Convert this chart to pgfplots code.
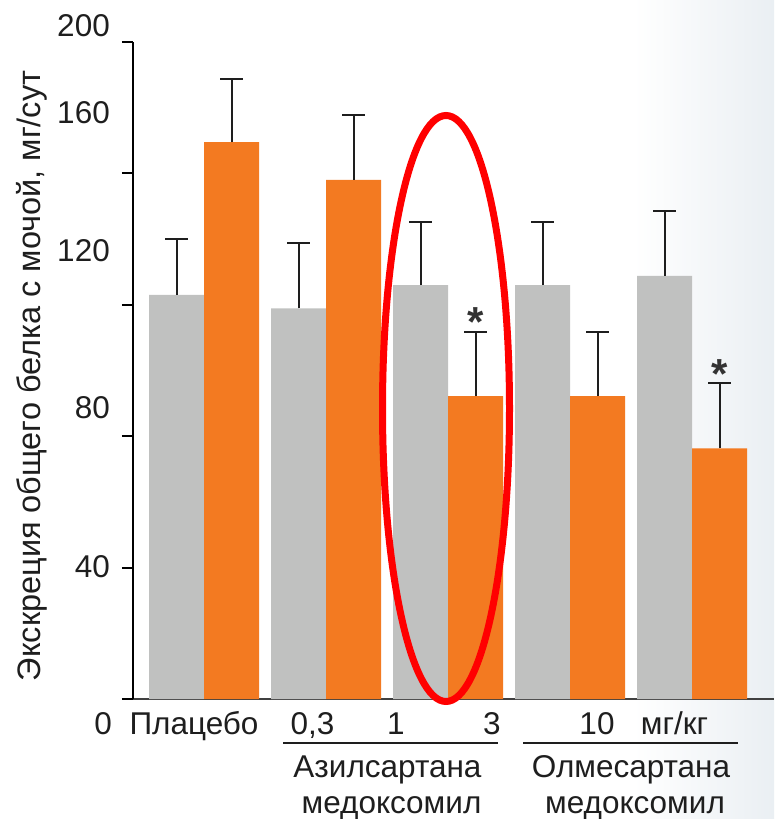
\documentclass[border=0pt]{standalone}
\usepackage{pgfplots}
\pgfplotsset{compat=1.18}
\usepackage{pgfplotstable}
\usepackage{fontspec}
\setmainfont{Liberation Sans}

\definecolor{barGray}{HTML}{C0C1C0}
\definecolor{barOrange}{HTML}{F37A21}
\definecolor{txt}{HTML}{1E1E1E}
\definecolor{bgEdge}{HTML}{EAEFF3}

% group index, mean, upper SD
\pgfplotstableread{
x  y      e
0  123.0  16.9
1  118.9  20.0
2  126.0  19.3
3  126.0  19.3
4  128.8  19.8
}\grayData
\pgfplotstableread{
x  y      e
0  169.5  19.3
1  158.0  19.8
2  92.2   19.4
3  92.2   19.6
4  76.3   20.0
}\orangeData

\begin{document}
\begin{tikzpicture}[x=1pt, y=1pt, font=\fontsize{31.5}{36}\selectfont, text=txt]
\useasboundingbox (-133,-120) rectangle (641,699);
\shade[left color=white, right color=bgEdge] (500,-120) rectangle (641,699);

\begin{axis}[
  at={(0pt,0pt)}, anchor=south west,
  scale only axis, width=641pt, height=657pt,
  xmin=-0.582, xmax=4.672, ymin=0, ymax=200,
  axis lines*=left,
  x axis line style={draw=black!75, line width=2pt},
  y axis line style={draw=black, line width=2.5pt},
  xtick=\empty,
  ytick={0,40,...,200}, yticklabels={},
  tick align=outside, major tick length=11pt,
  tick style={line width=2pt, black},
  ybar=0pt, bar width=55pt,
  clip=false,
  error bars/error bar style={draw=txt, line width=2pt},
  error bars/error mark options={draw=txt, line width=2pt, mark size=11.5pt, rotate=90},
]
\addplot[fill=barGray, draw=none,
  error bars/.cd, y dir=plus, y explicit]
  table[x=x, y=y, y error=e] {\grayData};
\addplot[fill=barOrange, draw=none,
  error bars/.cd, y dir=plus, y explicit]
  table[x=x, y=y, y error=e] {\orangeData};

% significance marks
\node[anchor=north, inner sep=0pt, text=black!80, xshift=27.5pt,
  font=\fontsize{42}{42}\selectfont\bfseries] at (axis cs:2,119.3) {*};
\node[anchor=north, inner sep=0pt, text=black!80, xshift=27.5pt,
  font=\fontsize{42}{42}\selectfont\bfseries] at (axis cs:4,103.5) {*};
\end{axis}

% y tick labels
\begin{scope}[every node/.style={anchor=east, inner sep=0pt}]
\node at (-23,673) {200};
\node at (-23,586) {160};
\node at (-23,448) {120};
\node at (-23,291) {80};
\node at (-23,132) {40};
\node at (-21,-25) {0};
\end{scope}

% y axis title
\node[rotate=90, anchor=base, inner sep=0pt, font=\fontsize{32.5}{36}\selectfont] at (-92,323)
  {Экскреция общего белка с мочой, мг/сут};

% category labels
\begin{scope}[every node/.style={anchor=base, inner sep=0pt}]
\node at (61,-35) {Плацебо};
\node at (179.5,-35) {0,3};
\node at (263,-35) {1};
\node at (359,-35) {3};
\node at (464,-35) {10};
\node at (541.5,-35) {мг/кг};
\node at (254.5,-78) {Азилсартана};
\node at (258.5,-114) {медоксомил};
\node at (498,-78) {Олмесартана};
\node at (502,-114) {медоксомил};
\end{scope}
\draw[txt, line width=2pt] (150,-44) -- (365,-44);
\draw[txt, line width=2pt] (390,-44) -- (605,-44);

% highlight of the 3 mg/kg group
\draw[red, line width=7pt] (313,290.5) ellipse [x radius=63.5pt, y radius=293pt];
\end{tikzpicture}
\end{document}
